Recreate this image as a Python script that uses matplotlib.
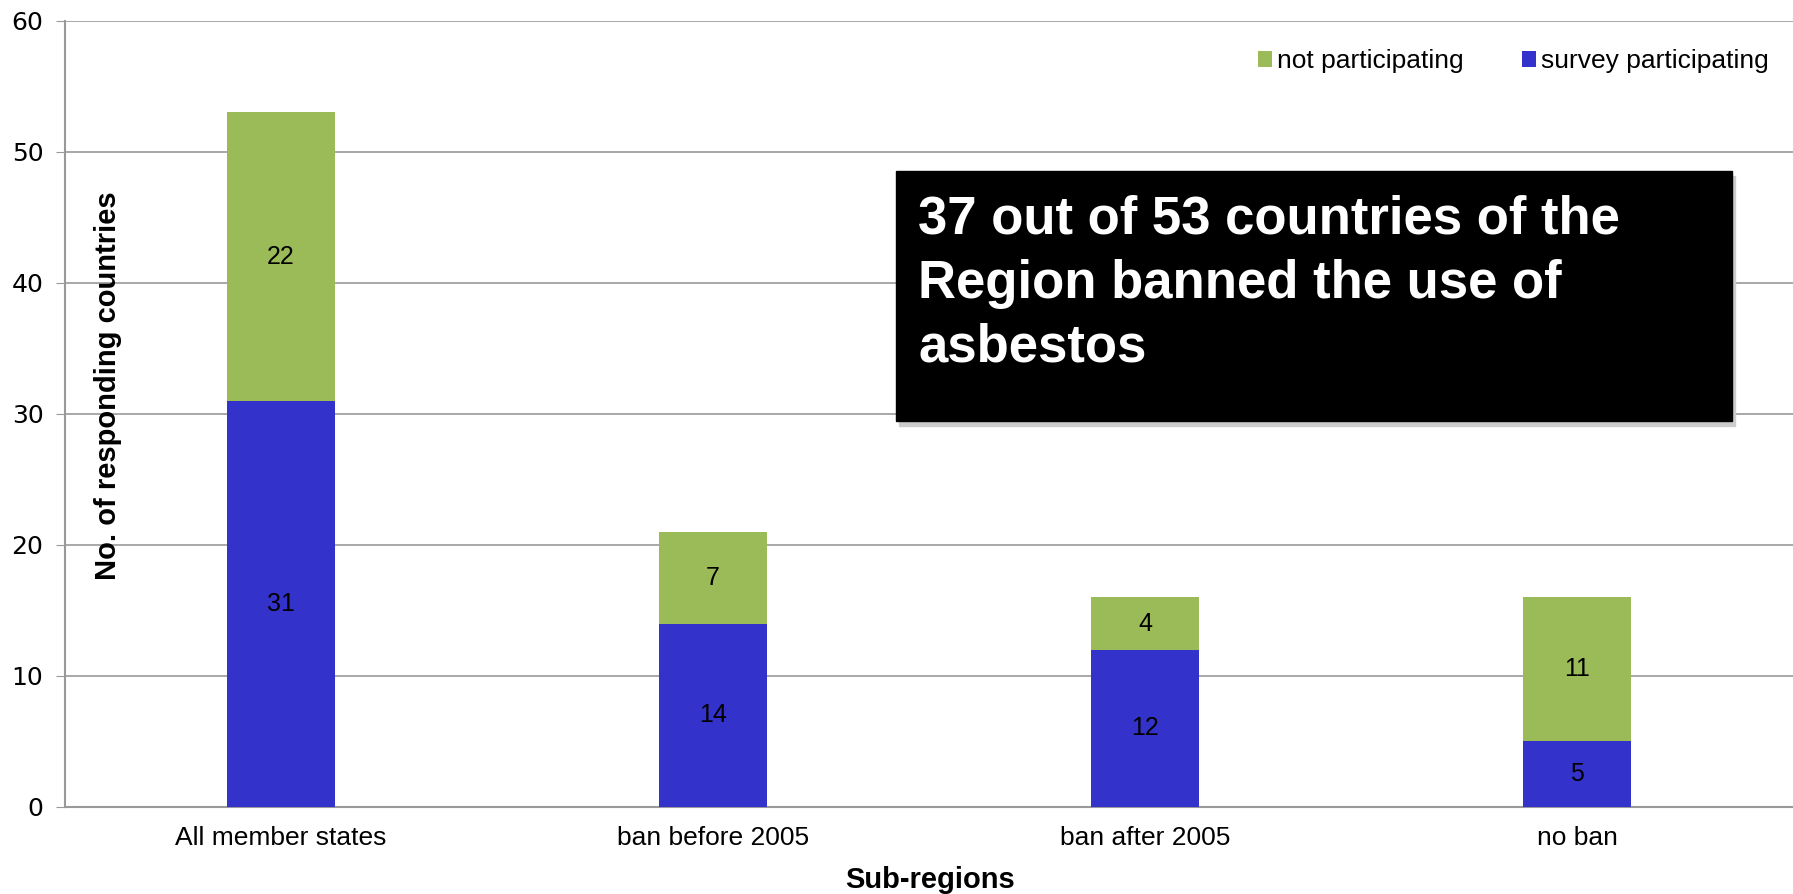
import numpy as np
import matplotlib.pyplot as plt
from matplotlib.patches import Rectangle

# chart values
categories = ['All member states', 'ban before 2005', 'ban after 2005', 'no ban']
participating = [31, 14, 12, 5]
not_participating = [22, 7, 4, 11]
yticks = [0, 10, 20, 30, 40, 50, 60]
box_lines = ['37 out of 53 countries of the', 'Region banned the use of', 'asbestos']

blue = '#3333CC'
green = '#9BBB59'
arial = ['Liberation Sans', 'DejaVu Sans']

W, H = 1793, 894
fig = plt.figure(figsize=(W / 100, H / 100), dpi=100)
ax = fig.add_axes([65 / W, 1 - 807 / H, (W - 65) / W, (807 - 20.6) / H])

x = np.arange(len(categories))
b1 = ax.bar(x, participating, width=0.25, color=blue, label='survey participating', zorder=3)
b2 = ax.bar(x, not_participating, width=0.25, bottom=participating, color=green,
            label='not participating', zorder=3)
ax.bar_label(b1, label_type='center', fontsize=18, family=arial)
ax.bar_label(b2, label_type='center', fontsize=18, family=arial)

ax.set_xlim(-0.5, len(categories) - 0.5)
ax.set_ylim(0, 60)
ax.set_yticks(yticks)
ax.set_yticklabels([str(t) for t in yticks], fontsize=18, family='DejaVu Sans')
ax.set_xticks(x)
ax.set_xticklabels(categories, fontsize=19, family=arial)
ax.tick_params(axis='x', length=0, pad=14)
ax.tick_params(axis='y', length=6.5, color='#999999', pad=9)
ax.yaxis.grid(True, color='#999999', linewidth=1.2, zorder=0)
for s in ['top', 'right']:
    ax.spines[s].set_visible(False)
for s in ['left', 'bottom']:
    ax.spines[s].set_color('#999999')
    ax.spines[s].set_linewidth(1.5)

fig.text(930 / W, 1 - 880 / H, 'Sub-regions', ha='center', va='center',
         fontsize=21, fontweight='bold', family=arial)
fig.text(108 / W, 1 - 386 / H, 'No. of responding countries', rotation=90,
         ha='center', va='center', fontsize=21, fontweight='bold', family=arial)

handles, labels = ax.get_legend_handles_labels()
ax.legend(handles[::-1], labels[::-1], loc='center right',
          bbox_to_anchor=(1769 / W, 1 - 61 / H), bbox_transform=fig.transFigure,
          ncol=2, frameon=False, prop={'family': arial, 'size': 19},
          borderaxespad=0, borderpad=0,
          handlelength=0.54, handleheight=0.54, handletextpad=0.2, columnspacing=2.2)

# annotation box with shadow
bx0, by0, bx1, by1 = 896, 171, 1732, 421
fig.patches.append(Rectangle(((bx0 + 3) / W, 1 - (by1 + 5) / H), (bx1 - bx0) / W, (by1 - by0) / H,
                             transform=fig.transFigure, color='#cccccc', zorder=4))
fig.patches.append(Rectangle((bx0 / W, 1 - by1 / H), (bx1 - bx0) / W, (by1 - by0) / H,
                             transform=fig.transFigure, color='black', zorder=5))
for i, line in enumerate(box_lines):
    fig.text(918 / W, 1 - (234 + 64 * i) / H, line, ha='left', va='baseline', color='white',
             fontsize=38, fontweight='bold', family=arial, zorder=6)

fig.savefig('out.png', dpi=100)
